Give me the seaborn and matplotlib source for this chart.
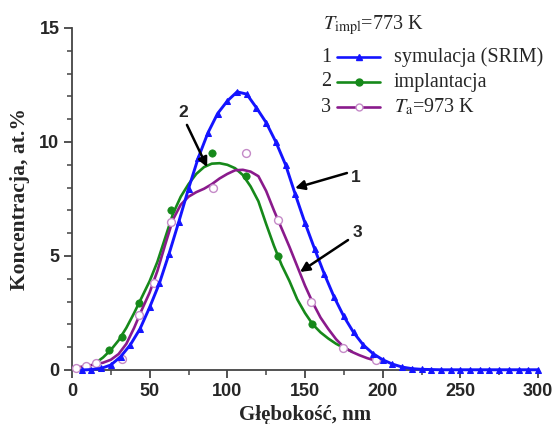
import numpy as np
import pandas as pd
import matplotlib
matplotlib.use("Agg")
import matplotlib.pyplot as plt
import seaborn as sns
from matplotlib.lines import Line2D

# --- data -------------------------------------------------------------
# 1: SRIM simulation
srim_depth = [6.25, 12.5, 18.75, 25, 31.25, 37.5, 43.75, 50, 56.25, 62.5, 68.75, 75,
              81.25, 87.5, 93.75, 100, 106.25, 112.5, 118.75, 125, 131.25, 137.5, 143.75, 150,
              156.25, 162.5, 168.75, 175, 181.25, 187.5, 193.75, 200, 206.25, 212.5, 218.75, 225,
              231.25, 237.5, 243.75, 250, 256.25, 262.5, 268.75, 275, 281.25, 287.5, 293.75, 300]
srim_conc = [0.0, 0.02, 0.07, 0.22, 0.58, 1.1, 1.8, 2.75, 3.8, 5.1, 6.5, 7.95,
             9.3, 10.4, 11.25, 11.8, 12.2, 12.1, 11.5, 10.85, 10.0, 9.0, 7.7, 6.45,
             5.3, 4.2, 3.2, 2.35, 1.65, 1.1, 0.72, 0.45, 0.26, 0.13, 0.06, 0.03,
             0.02, 0.01, 0.01, 0.01, 0.01, 0.01, 0.01, 0.01, 0.01, 0.01, 0.01, 0.01]

# 2: as-implanted, measured points and fitted profile
impl_depth = [24, 32, 43, 64, 90, 112, 132.5, 154.5]
impl_conc = [0.88, 1.45, 2.95, 7.0, 9.5, 8.5, 5.0, 2.0]
impl_fit_depth = [15, 20, 25, 30, 35, 40, 45, 50, 55, 60, 65, 70, 75, 80, 85, 90, 95,
                  100, 105, 110, 115, 120, 125, 130, 135, 140, 145, 150, 155, 160, 165,
                  170, 175, 180]
impl_fit_conc = [0.3, 0.55, 0.88, 1.3, 1.85, 2.5, 3.2, 3.9, 4.75, 5.8, 6.85, 7.6, 8.15,
                 8.6, 8.9, 9.05, 9.07, 9.0, 8.85, 8.55, 8.05, 7.4, 6.4, 5.45, 4.6, 3.9,
                 3.1, 2.5, 2.0, 1.65, 1.38, 1.15, 0.97, 0.82]

# 3: annealed at 973 K, measured points and fitted profile
anneal_depth = [2.6, 9, 15.5, 32, 43, 53, 64, 90.5, 112, 132.5, 154, 174.5, 195.5]
anneal_conc = [0.09, 0.18, 0.3, 0.48, 2.4, 3.8, 6.5, 8.0, 9.5, 6.6, 3.0, 0.96, 0.46]
anneal_fit_depth = [0, 5, 10, 15, 20, 25, 30, 35, 40, 45, 50, 55, 60, 65, 70, 75, 80, 85,
                    90, 95, 100, 105, 110, 115, 120, 125, 130, 135, 140, 145, 150, 155,
                    160, 165, 170, 175, 180, 185, 190, 195]
anneal_fit_conc = [0.1, 0.13, 0.18, 0.25, 0.32, 0.45, 0.7, 1.15, 1.85, 2.65, 3.4, 4.35,
                   5.5, 6.6, 7.25, 7.6, 7.8, 7.95, 8.15, 8.4, 8.6, 8.76, 8.78, 8.7, 8.5,
                   7.85, 7.0, 6.2, 5.4, 4.55, 3.7, 2.95, 2.3, 1.8, 1.35, 1.0, 0.8, 0.65,
                   0.52, 0.42]

x_ticks = [0, 50, 100, 150, 200, 250, 300]
y_ticks = [0, 5, 10, 15]

BLUE = "#1414ff"
GREEN = "#16891a"
PURPLE = "#8a1a8c"
CIRCLE_EDGE = "#c58ac8"

# --- figure -----------------------------------------------------------
sns.set_theme(style="ticks")
plt.rcParams["font.family"] = ["Liberation Sans", "DejaVu Sans"]
plt.rcParams["mathtext.fontset"] = "stix"

fig = plt.figure(figsize=(5.56, 4.24), dpi=100)
ax = fig.add_axes([72 / 556, 1 - 370 / 424, 466 / 556, 342 / 424])

sns.lineplot(x=impl_fit_depth, y=impl_fit_conc, ax=ax, color=GREEN, lw=1.9,
             sort=False, zorder=3)
sns.scatterplot(x=impl_depth, y=impl_conc, ax=ax, color=GREEN, s=28,
                edgecolor=GREEN, linewidth=0.5, zorder=4, clip_on=False)

sns.lineplot(x=anneal_fit_depth, y=anneal_fit_conc, ax=ax, color=PURPLE, lw=1.9,
             sort=False, zorder=5)
sns.scatterplot(x=anneal_depth, y=anneal_conc, ax=ax, facecolor="white",
                edgecolor=CIRCLE_EDGE, s=32, linewidth=1.0, zorder=6, clip_on=False)

sns.lineplot(x=srim_depth, y=srim_conc, ax=ax, color=BLUE, lw=2.1, marker="^",
             markersize=4.2, markeredgecolor=BLUE, sort=False, zorder=7, clip_on=False)

ax.set_xlim(0, 300)
ax.set_ylim(0, 15)
ax.set_xticks(x_ticks)
ax.set_yticks(y_ticks)
ax.set_xticks(np.arange(25, 300, 50), minor=True)
ax.set_yticks([v for v in range(16) if v % 5], minor=True)
ax.set_xticklabels([str(v) for v in x_ticks], fontsize=13, fontweight="bold")
ax.set_yticklabels([str(v) for v in y_ticks], fontsize=13, fontweight="bold")
ax.tick_params(which="major", direction="out", length=6, width=1.3, color="#444444", pad=3)
ax.tick_params(which="minor", direction="out", length=3.5, width=1.1, color="#444444")
for side in ("top", "right"):
    ax.spines[side].set_visible(False)
for side in ("left", "bottom"):
    ax.spines[side].set_linewidth(1.3)
    ax.spines[side].set_color("#444444")

ax.set_xlabel("Głębokość, nm", family=["Liberation Serif", "DejaVu Serif"],
              fontsize=15, fontweight="bold", labelpad=4)
ax.set_ylabel("Koncentracja, at.%", family=["Liberation Serif", "DejaVu Serif"],
              fontsize=15.5, fontweight="bold", labelpad=7)

# curve labels with arrows
arrow_kw = dict(arrowstyle="-|>", color="black", lw=1.8, mutation_scale=14,
                shrinkA=0, shrinkB=0)
for label, tip, tail, pos in [
    ("1", (143.6, 7.98), (177.0, 8.64), (182.5, 8.45)),
    ("2", (87.0, 8.9), (74.0, 10.75), (71.5, 11.3)),
    ("3", (146.8, 4.3), (177.7, 5.7), (184.0, 6.05)),
]:
    ax.annotate("", xy=tip, xytext=tail, arrowprops=arrow_kw, zorder=8)
    ax.text(pos[0], pos[1], label, fontsize=12.5, fontweight="bold",
            ha="center", va="center", zorder=8)

# legend block
serif = ["Liberation Serif", "DejaVu Serif"]
fig.text(323 / 556, 1 - 25 / 424, r"$T_{\mathrm{impl}}$=773 K", family=serif,
         fontsize=14.5, ha="left", va="center")
rows = [
    ("1", BLUE, "^", BLUE, BLUE, "symulacja (SRIM)"),
    ("2", GREEN, "o", GREEN, GREEN, "implantacja"),
    ("3", PURPLE, "o", "white", CIRCLE_EDGE, r"$T_{\mathrm{a}}$=973 K"),
]
for i, (num, col, mk, mfc, mec, txt) in enumerate(rows):
    yy = 1 - (57 + 25 * i) / 424
    fig.text(326 / 556, yy, num, family=serif, fontsize=14.5, ha="center", va="center")
    fig.add_artist(Line2D([337 / 556, 380 / 556], [yy, yy], transform=fig.transFigure,
                          color=col, lw=1.9))
    fig.add_artist(Line2D([358.5 / 556], [yy], transform=fig.transFigure, marker=mk,
                          markersize=5, markerfacecolor=mfc, markeredgecolor=mec,
                          linestyle="none"))
    fig.text(394 / 556, yy, txt, family=serif, fontsize=14.5, ha="left", va="center")

fig.savefig("out.png", dpi=100)
